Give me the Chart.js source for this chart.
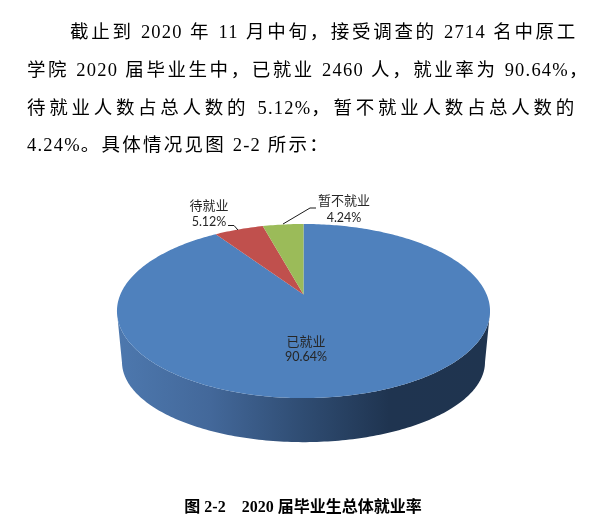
<!DOCTYPE html>
<html lang="zh">
<head>
<meta charset="utf-8">
<title>图 2-2</title>
<script src="https://cdn.jsdelivr.net/npm/chart.js@4/dist/chart.umd.min.js"></script>
<style>
  html, body { margin: 0; padding: 0; background: #fff; }
  #page { position: relative; width: 594px; height: 527px; overflow: hidden; }
  #grafico { position: absolute; left: 0; top: 0; }
  .linea {
    position: absolute; white-space: pre;
    font: 18.5px/24px "Liberation Serif", "Noto Sans CJK SC", serif;
    color: #000; height: 24px;
  }
  .linea span { letter-spacing: 1.2px; }
  #pie {
    position: absolute; left: 0; width: 606px; top: 495px; text-align: center; color: #000;
    font: bold 16px/24px "Liberation Serif", "Noto Sans CJK SC", serif; white-space: pre;
  }
</style>
</head>
<body>
<div id="page">
  <canvas id="grafico" width="594" height="527"></canvas>
  <div class="linea" data-ancho="508" style="left:70px;top:20px">截止到 2020 年 11 月中旬，接受调查的 2714 名中原工</div>
  <div class="linea" data-ancho="563" style="left:27px;top:58px">学院 2020 届毕业生中，已就业 2460 人，就业率为 90.64%，</div>
  <div class="linea" data-ancho="551" style="left:27px;top:96px">待就业人数占总人数的 5.12%，暂不就业人数占总人数的</div>
  <div class="linea" data-ancho="303" style="left:27px;top:133px">4.24%。具体情况见图 2-2 所示：</div>
  <div id="pie">图 2-2    2020 届毕业生总体就业率</div>
</div>
<script>
const categorias = ['已就业', '待就业', '暂不就业'];
const valores = [90.64, 5.12, 4.24];
const colores = ['#4F81BD', '#C0504D', '#9BBB59'];

// Perspective of the tilted pie
const persp = -0.19;
const escalaX = 0.982;
const escalaY = 0.45;
const subeCentro = 16.5;
// Thickness of the pie: lower rim is slightly smaller and further down
const bajaBase = 51;
const reduceX = 0.973;
const reduceY = 0.92;

// Where each label goes, in the order of categorias
const etiquetas = [
  { x: 306, y: 341, y2: 357 },
  { x: 209, y: 205, y2: 222 },
  { x: 344, y: 200, y2: 218 }
];
const guias = [
  null,
  [[228, 225.5], [234, 225.5], [238, 230]],
  [[283, 224], [310, 208], [316, 208]]
];

// Digits keep a tight spacing, the Chinese text is spread to fill the line
document.querySelectorAll('.linea').forEach(linea => {
  const texto = linea.textContent;
  linea.innerHTML = texto.replace(/[0-9.%-]+/g, '<span>$&</span>');
  const resto = texto.replace(/[0-9.%-]+/g, '').length;
  const sobra = Number(linea.dataset.ancho) - linea.getBoundingClientRect().width;
  linea.style.letterSpacing = (sobra / resto) + 'px';
});

function proyecta(arc, angulo) {
  const u = Math.cos(angulo), v = Math.sin(angulo);
  const d = 1 + persp * v;
  return {
    x: arc.x + arc.outerRadius * escalaX * u / d,
    y: arc.y - subeCentro + arc.outerRadius * escalaY * v / d
  };
}

function base(arc, p) {
  return {
    x: arc.x + (p.x - arc.x) * reduceX,
    y: arc.y + bajaBase + (p.y - arc.y) * reduceY
  };
}

function muestras(arc) {
  const lista = [];
  const pasos = Math.ceil((arc.endAngle - arc.startAngle) * 60);
  for (let i = 0; i <= pasos; i++) {
    lista.push(arc.startAngle + (arc.endAngle - arc.startAngle) * i / pasos);
  }
  return lista;
}

const pie3d = {
  id: 'pie3d',
  beforeDatasetDraw(chart, args) {
    const ctx = chart.ctx;
    const arcos = chart.getDatasetMeta(args.index).data;

    // side wall first, only the part that faces the viewer
    arcos.forEach(arc => {
      const frente = muestras(arc).filter(a => Math.sin(a) >= -persp).map(a => proyecta(arc, a));
      if (frente.length < 2) return;
      const grad = ctx.createLinearGradient(arc.x - arc.outerRadius, 0, arc.x + arc.outerRadius, 0);
      grad.addColorStop(0, '#4D78AE');
      grad.addColorStop(0.25, '#43689A');
      grad.addColorStop(0.5, '#2F4C72');
      grad.addColorStop(0.73, '#1F3450');
      grad.addColorStop(1, '#1F344F');
      ctx.beginPath();
      frente.forEach((p, i) => i ? ctx.lineTo(p.x, p.y) : ctx.moveTo(p.x, p.y));
      frente.slice().reverse().forEach(p => {
        const b = base(arc, p);
        ctx.lineTo(b.x, b.y);
      });
      ctx.closePath();
      ctx.fillStyle = grad;
      ctx.fill();
    });

    // top face
    arcos.forEach((arc, i) => {
      const centro = { x: arc.x, y: arc.y - subeCentro };
      ctx.beginPath();
      ctx.moveTo(centro.x, centro.y);
      muestras(arc).forEach(a => {
        const p = proyecta(arc, a);
        ctx.lineTo(p.x, p.y);
      });
      ctx.closePath();
      ctx.fillStyle = colores[i];
      ctx.fill();
    });
    return false;
  },
  afterDatasetsDraw(chart) {
    const ctx = chart.ctx;
    ctx.save();
    ctx.strokeStyle = '#1a1a1a';
    ctx.lineWidth = 1;
    guias.forEach(g => {
      if (!g) return;
      ctx.beginPath();
      g.forEach((p, i) => i ? ctx.lineTo(p[0], p[1]) : ctx.moveTo(p[0], p[1]));
      ctx.stroke();
    });
    ctx.textAlign = 'center';
    ctx.textBaseline = 'middle';
    ctx.fillStyle = '#262626';
    categorias.forEach((c, i) => {
      const e = etiquetas[i];
      ctx.font = '13px "Noto Sans CJK SC"';
      ctx.fillText(c, e.x, e.y);
      ctx.font = '12.5px Lato, "Noto Sans"';
      ctx.fillText(valores[i].toFixed(2) + '%', e.x, e.y2);
    });
    ctx.restore();
  }
};

new Chart(document.getElementById('grafico'), {
  type: 'pie',
  data: {
    labels: categorias,
    datasets: [{ data: valores, backgroundColor: colores, borderWidth: 0 }]
  },
  options: {
    responsive: false,
    animation: false,
    events: [],
    // leaves a pie of radius 186.5 centred on the ellipse
    layout: { padding: { left: 117, right: 104, top: 124.5, bottom: 29.5 } },
    plugins: { legend: { display: false }, tooltip: { enabled: false } }
  },
  plugins: [pie3d]
});
</script>
</body>
</html>
